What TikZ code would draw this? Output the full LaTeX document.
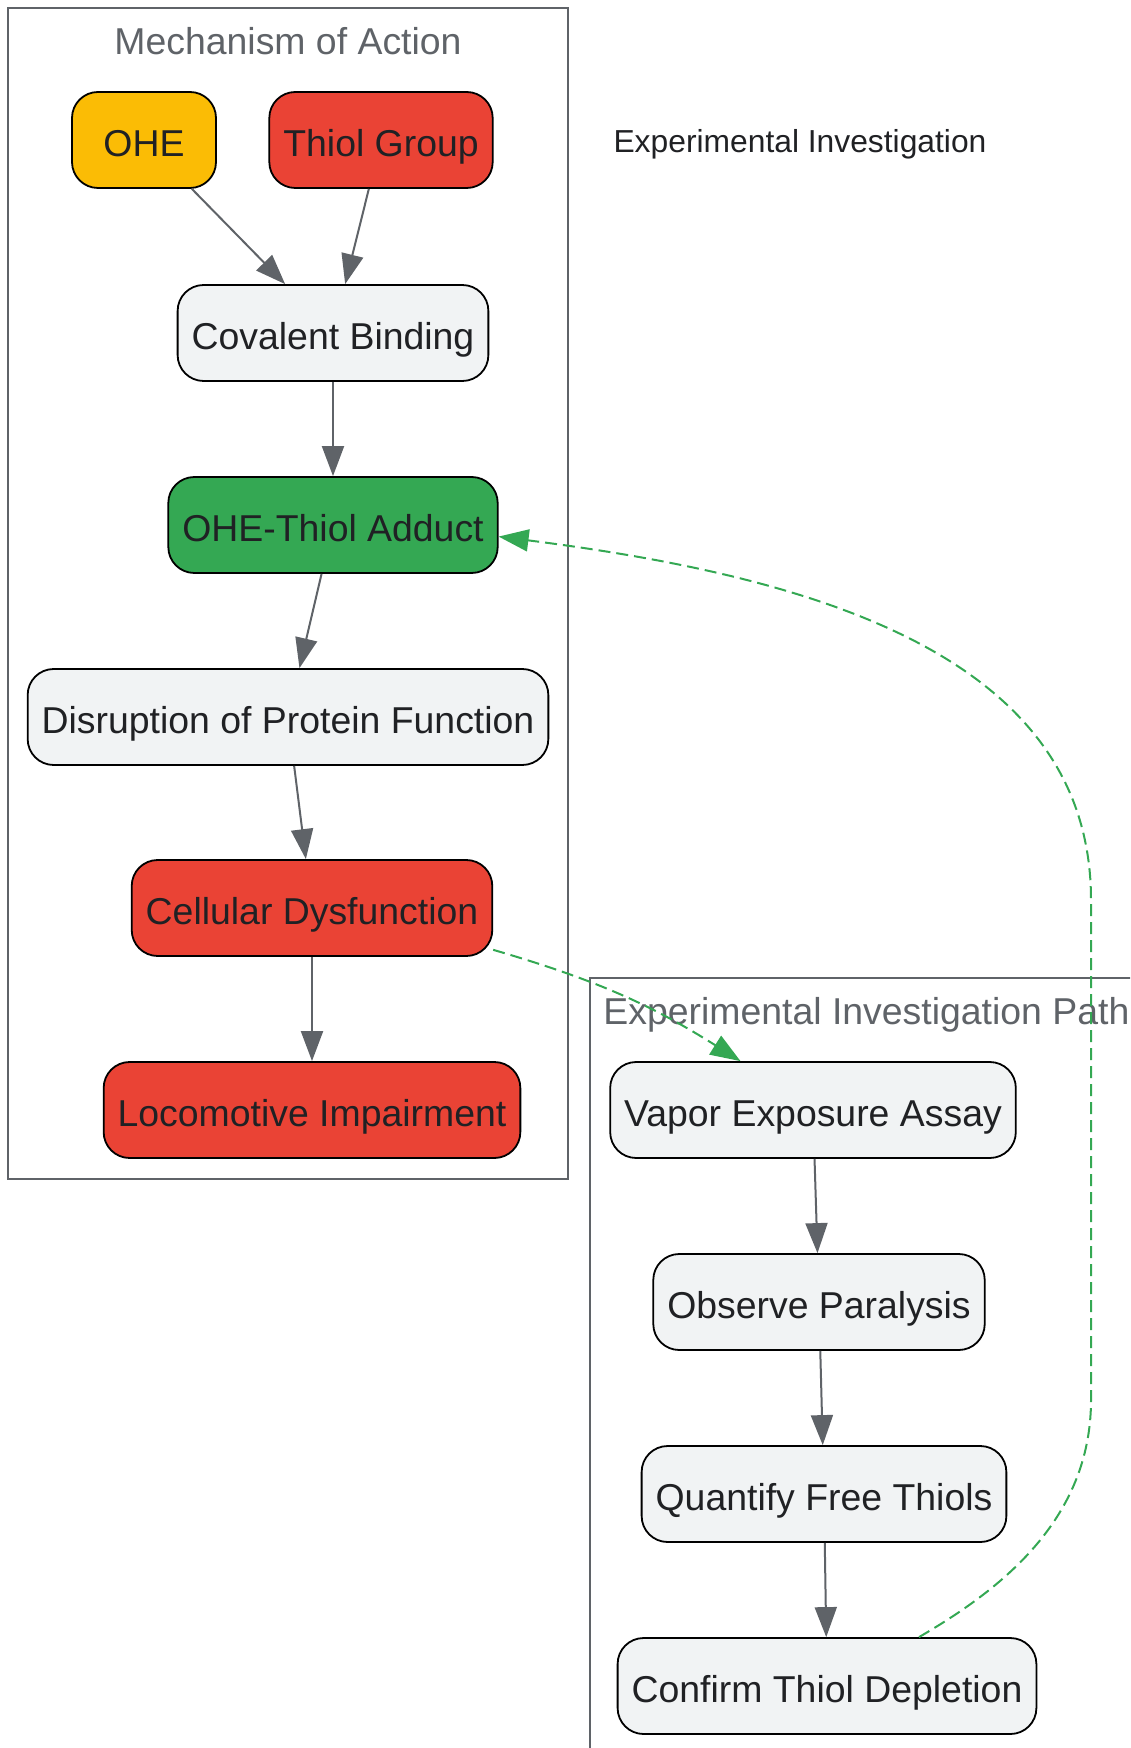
\documentclass[tikz,border=0pt]{standalone}
\usepackage{fontspec}
\setmainfont{Liberation Sans}
\usetikzlibrary{arrows.meta}
\definecolor{ohefill}{HTML}{FBBC05}
\definecolor{redfill}{HTML}{EA4335}
\definecolor{greenfill}{HTML}{34A853}
\definecolor{lightfill}{HTML}{F1F3F4}
\definecolor{txt}{HTML}{202124}
\definecolor{edgegray}{HTML}{5F6368}

\begin{document}
\begin{tikzpicture}[x=0.5pt,y=-0.5pt,
  box/.style={draw=black,line width=0.9pt,rounded corners=13pt,fill=lightfill,
    minimum height=48pt,minimum width=72pt,inner xsep=7pt,text=txt,
    text height=16.5pt,text depth=0pt,font=\fontsize{18.7}{22}\selectfont},
  arr/.style={draw=edgegray,line width=1pt,-{Triangle[length=15pt,width=11pt]}},
  garr/.style={draw=greenfill,line width=1pt,dash pattern=on 6pt off 3pt,
    -{Triangle[length=15pt,width=11pt,fill=greenfill]}},
  cluster/.style={draw=edgegray,line width=1.1pt},
  ctitle/.style={text=edgegray,font=\fontsize{18.7}{22}\selectfont}]
\useasboundingbox (0,0) rectangle (1130,1748);
\clip (0,0) rectangle (1130,1748);
\draw[cluster] (8,8) rectangle (568,1179);
\draw[cluster] (590,978) rectangle (1200,1800);
\node[ctitle] (mtitle) at (288,41) {Mechanism of Action};
\node[ctitle,anchor=west,inner xsep=0pt] (etitle) at (603,1015) {Experimental Investigation Path};
\node[text=txt,font=\fontsize{15.9}{19}\selectfont] (elabel) at (800,144) {Experimental Investigation};

\node[box,fill=ohefill] (ohe) at (144,140) {OHE};
\node[box,fill=redfill] (thiol) at (381,140) {Thiol Group};
\node[box] (cov) at (333,333) {Covalent Binding};
\node[box,fill=greenfill] (add) at (333,525) {OHE-Thiol Adduct};
\node[box] (dis) at (288,717) {Disruption of Protein Function};
\node[box,fill=redfill] (cell) at (312,908) {Cellular Dysfunction};
\node[box,fill=redfill] (loco) at (312,1110) {Locomotive Impairment};

\node[box] (vapor) at (813,1110) {Vapor Exposure Assay};
\node[box] (obs) at (819,1302) {Observe Paralysis};
\node[box] (quant) at (824,1494) {Quantify Free Thiols};
\node[box] (conf) at (827,1686) {Confirm Thiol Depletion};

\draw[arr] (ohe) -- (cov);
\draw[arr] (thiol) -- (cov);
\draw[arr] (cov) -- (add);
\draw[arr] (add) -- (dis);
\draw[arr] (dis) -- (cell);
\draw[arr] (cell) -- (loco);
\draw[arr] (vapor) -- (obs);
\draw[arr] (obs) -- (quant);
\draw[arr] (quant) -- (conf);

\coordinate (loopb) at (1091,1400);
\coordinate (loopt) at (1091,900);
\draw[garr] (cell.-13) to[bend left=8] (vapor.146);
\draw[garr] (conf.28) .. controls (1000,1590) and (1091,1520) .. (loopb) -- (loopt)
  .. controls (1091,650) and (800,575) .. (add.-4);
\end{tikzpicture}
\end{document}
